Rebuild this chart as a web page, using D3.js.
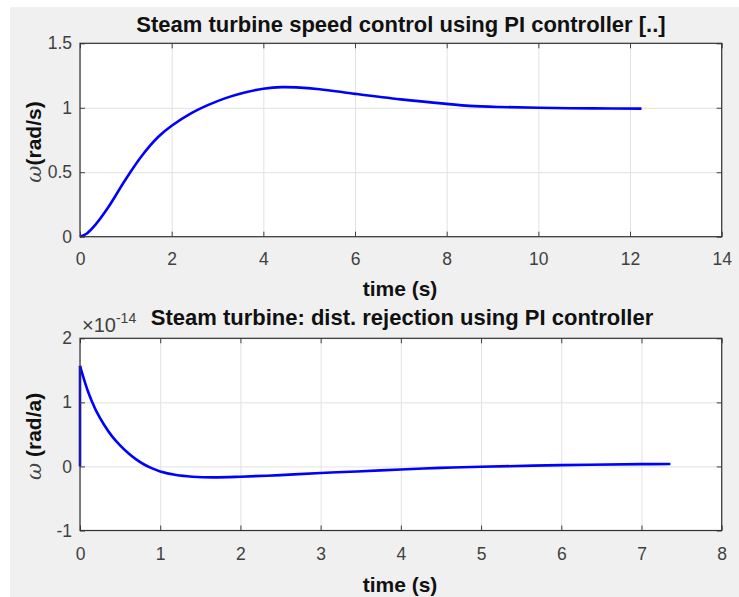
<!DOCTYPE html>
<html>
<head>
  <meta charset="utf-8">
  <script src="https://d3js.org/d3.v7.min.js"></script>
  <style>
    body { margin: 0; background: #fff; }
    .tick text { font-family: "Liberation Sans", Arial, sans-serif; font-size: 17.5px; fill: #404040; }
    .grid line { stroke: #e2e2e2; }
    .grid path { display: none; }
    .ttl { font-family: "Liberation Sans", Arial, sans-serif; font-weight: bold; fill: #111; }
  </style>
</head>
<body>
<script>
  // step response (top panel)
  var stepT = [0, 0.15, 0.33, 0.62, 0.98, 1.35, 1.71, 2.0, 2.44, 2.8, 3.16, 3.53, 4.0, 4.4, 4.72, 5.23, 6.0, 7.0, 8.0, 8.5, 9.16, 10, 11.2, 12.25];
  var stepW = [0, 0.025, 0.09, 0.23, 0.436, 0.628, 0.775, 0.86, 0.96, 1.022, 1.073, 1.113, 1.147, 1.16, 1.158, 1.144, 1.108, 1.065, 1.03, 1.015, 1.006, 1.0, 0.995, 0.993];

  // disturbance response (bottom panel), values in units of 1e-14
  var distT = [0, 0, 0.05, 0.1, 0.15, 0.2, 0.3, 0.4, 0.5, 0.6, 0.7, 0.8, 0.9, 1.0, 1.2, 1.4, 1.66, 2.0, 2.5, 3.0, 3.45, 4.0, 4.49, 5.0, 6.0, 7.0, 7.36];
  var distW = [0, 1.57, 1.36, 1.17, 1.01, 0.87, 0.65, 0.47, 0.33, 0.21, 0.11, 0.03, -0.03, -0.08, -0.135, -0.16, -0.17, -0.16, -0.135, -0.103, -0.078, -0.047, -0.022, -0.005, 0.02, 0.036, 0.037];

  var topXTicks = [0, 2, 4, 6, 8, 10, 12, 14];
  var topYTicks = [0, 0.5, 1, 1.5];
  var botXTicks = [0, 1, 2, 3, 4, 5, 6, 7, 8];
  var botYTicks = [-1, 0, 1, 2];

  var svg = d3.select("body").append("svg")
    .attr("width", 739).attr("height", 597);

  svg.append("rect").attr("x", 10).attr("y", 7)
    .attr("width", 729).attr("height", 590).attr("fill", "#f0f0f0");

  function fmt(d) { return String(d); }

  function panel(o) {
    var x = d3.scaleLinear().domain(o.xd).range([80, 721.7]);
    var y = d3.scaleLinear().domain(o.yd).range([o.bottom, o.top]);
    var h = o.bottom - o.top, w = 721.7 - 80;
    var g = svg.append("g");

    g.append("rect").attr("x", 80).attr("y", o.top)
      .attr("width", w).attr("height", h).attr("fill", "#fff");

    // grid
    g.append("g").attr("class", "grid")
      .attr("transform", "translate(0," + o.bottom + ")")
      .call(d3.axisBottom(x).tickValues(o.xt).tickSize(-h).tickFormat(""));
    g.append("g").attr("class", "grid")
      .attr("transform", "translate(80,0)")
      .call(d3.axisLeft(y).tickValues(o.yt).tickSize(-w).tickFormat(""));

    // data
    var pts = o.t.map(function(d, i) { return [d, o.v[i]]; });
    var line = d3.line().x(function(d) { return x(d[0]); }).y(function(d) { return y(d[1]); });
    if (o.jump) {
      g.append("path").attr("d", line(pts.slice(0, 2)))
        .attr("fill", "none").attr("stroke", "#0000ff").attr("stroke-width", 2.6);
      pts = pts.slice(1);
    }
    g.append("path").attr("d", line.curve(d3.curveCatmullRom.alpha(0.5))(pts))
      .attr("fill", "none").attr("stroke", "#0000ff").attr("stroke-width", 2.6)
      .attr("stroke-linejoin", "round");

    // axes, ticks inside
    g.append("g").attr("transform", "translate(0," + o.bottom + ")")
      .call(d3.axisBottom(x).tickValues(o.xt).tickFormat(fmt).tickSizeInner(-5).tickSizeOuter(0).tickPadding(o.xpad));
    g.append("g").attr("transform", "translate(80,0)")
      .call(d3.axisLeft(y).tickValues(o.yt).tickFormat(fmt).tickSizeInner(-5).tickSizeOuter(0).tickPadding(8));
    g.append("g").attr("transform", "translate(0," + o.top + ")")
      .call(d3.axisTop(x).tickValues(o.xt).tickSizeInner(-5).tickSizeOuter(0).tickFormat(""));
    g.append("g").attr("transform", "translate(721.7,0)")
      .call(d3.axisRight(y).tickValues(o.yt).tickSizeInner(-5).tickSizeOuter(0).tickFormat(""));
    g.selectAll(".domain").remove();
    g.selectAll(".tick line").filter(function() { return this.parentNode.parentNode.getAttribute("class") !== "grid"; })
      .attr("stroke", "#404040");

    g.append("rect").attr("x", 80).attr("y", o.top)
      .attr("width", w).attr("height", h)
      .attr("fill", "none").attr("stroke", "#333").attr("stroke-width", 1.2);

    // title and labels
    g.append("text").attr("class", "ttl").attr("x", o.titleX).attr("y", o.titleY)
      .attr("text-anchor", "middle").attr("font-size", 22).text(o.title);
    g.append("text").attr("class", "ttl").attr("x", 400).attr("y", o.xlabY)
      .attr("text-anchor", "middle").attr("font-size", 21).text("time (s)");
    var yl = g.append("text").attr("class", "ttl")
      .attr("transform", "translate(41," + ((o.top + o.bottom) / 2 + 2) + ") rotate(-90)")
      .attr("text-anchor", "middle").attr("font-size", 21);
    yl.append("tspan").attr("font-family", "'DejaVu Serif', serif").attr("font-style", "italic")
      .attr("font-weight", "normal").attr("fill", "#444").text("\u03c9");
    yl.append("tspan").text(o.ylab);
    return g;
  }

  panel({
    xd: [0, 14], yd: [0, 1.5], top: 43.3, bottom: 236.7,
    xt: topXTicks, yt: topYTicks, t: stepT, v: stepW, xpad: 16,
    title: "Steam turbine speed control using PI controller [..]", titleX: 401, titleY: 32,
    xlabY: 296, ylab: "(rad/s)"
  });

  var b = panel({
    xd: [0, 8], yd: [-1, 2], top: 338.3, bottom: 530.5,
    xt: botXTicks, yt: botYTicks, t: distT, v: distW, xpad: 17, jump: true,
    title: "Steam turbine: dist. rejection using PI controller", titleX: 402, titleY: 325,
    xlabY: 592, ylab: " (rad/a)"
  });

  // exponent label
  var ex = b.append("text").attr("x", 82).attr("y", 332)
    .attr("font-family", "'Liberation Sans', Arial, sans-serif").attr("font-size", 20).attr("fill", "#404040");
  ex.append("tspan").text("\u00d710");
  ex.append("tspan").attr("font-size", 14).attr("dy", -9).text("-14");
</script>
</body>
</html>
